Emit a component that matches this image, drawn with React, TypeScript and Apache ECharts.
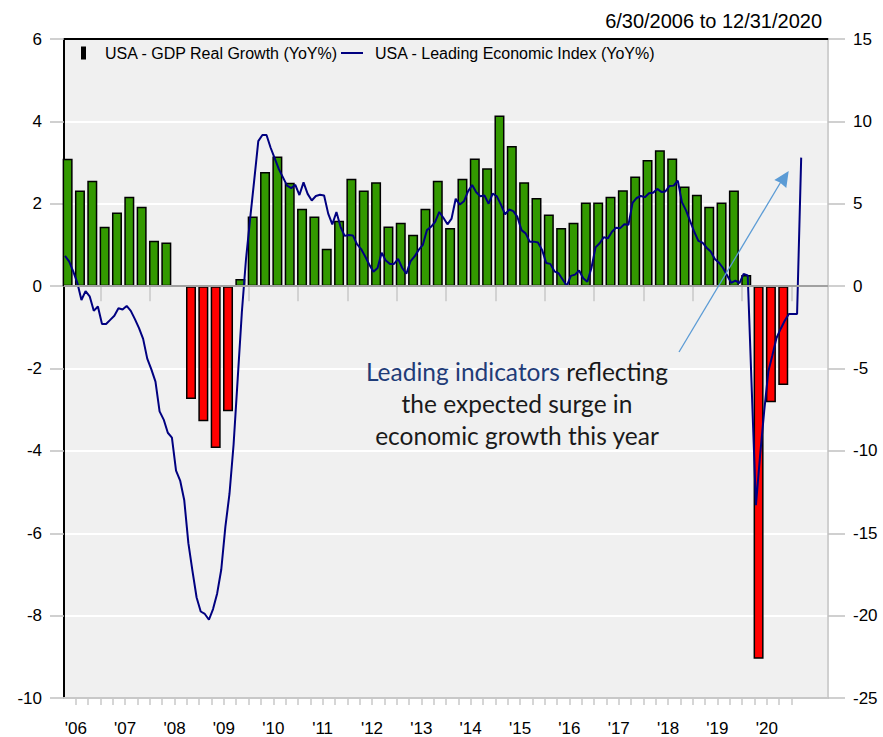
import React, { useEffect, useRef } from 'react';
import * as echarts from 'echarts';

// Quarterly USA real GDP growth (YoY %), 2006Q2 .. 2020Q4
const GDP_START_YEAR = 2006;
const GDP_START_QUARTER = 2;
const GDP_YOY = [
  3.09, 2.32, 2.56,
  1.44, 1.79, 2.17, 1.93,
  1.10, 1.06, 0.02, -2.74,
  -3.28, -3.93, -3.04, 0.17,
  1.69, 2.77, 3.15, 2.51,
  1.88, 1.69, 0.91, 1.59,
  2.61, 2.32, 2.52, 1.45,
  1.54, 1.25, 1.88, 2.56,
  1.41, 2.61, 3.10, 2.86,
  4.14, 3.40, 2.52, 2.14,
  1.74, 1.41, 1.54, 2.03,
  2.03, 2.17, 2.33, 2.66,
  3.06, 3.30, 3.10, 2.42,
  2.22, 1.93, 2.03, 2.32,
  0.27, -9.05, -2.82, -2.40,
];

// Monthly USA Leading Economic Index (YoY %), Apr 2006 .. Mar 2021
const LEI_START_YEAR = 2006;
const LEI_START_MONTH = 4;
const LEI_YOY = [
  1.83, 1.5, 0.9, 0.2, -0.84, -0.3, -0.62, -1.5, -1.24,
  -2.3, -2.3, -2.05, -1.8, -1.34, -1.42, -1.2, -1.5, -2.0, -2.55, -3.2, -4.4,
  -5.05, -5.8, -7.6, -8.1, -8.9, -9.2, -11.2, -11.8, -13.0, -15.6, -17.3, -18.9,
  -19.75, -19.9, -20.25, -19.6, -18.65, -17.2, -14.6, -12.6, -9.6, -5.6, -1.6, 1.6,
  4.05, 6.4, 8.8, 9.17, 9.17, 8.4, 7.75, 7.1, 6.6, 6.1, 5.95, 6.15,
  5.53, 6.3, 5.6, 5.2, 5.47, 5.55, 5.5, 4.4, 3.75, 4.5, 3.6, 3.05,
  3.1, 3.08, 2.55, 2.25, 1.8, 1.3, 0.88, 1.1, 2.03, 1.55, 1.35, 1.35,
  1.65, 1.1, 0.75, 1.5, 1.8, 2.2, 2.5, 3.4, 3.6, 3.9, 4.5, 4.15,
  3.75, 4.1, 5.3, 4.95, 5.15, 5.75, 6.14, 5.7, 5.45, 5.5, 5.0, 5.62,
  5.45, 4.95, 4.35, 4.65, 4.55, 4.2, 3.4, 3.2, 2.7, 2.7, 2.65, 2.2,
  1.4, 1.35, 0.9, 0.78, 0.4, 0.02, 0.62, 0.7, 0.95, 0.48, 0.27, 1.1,
  2.35, 2.6, 2.97, 2.9, 3.3, 3.55, 3.52, 3.75, 3.72, 5.05, 5.35, 5.47,
  5.4, 5.64, 5.67, 5.9, 5.72, 5.75, 6.08, 6.1, 6.4, 5.1, 4.6, 3.95,
  3.3, 2.75, 2.64, 2.33, 2.1, 1.65, 1.42, 1.1, 0.65, 0.2, 0.33, 0.18,
  0.74, 0.65, -6.4, -13.3, -10.3, -7.6, -5.2, -4.2, -3.15, -2.6, -2.1, -1.69,
  -1.69, -1.69, 7.8,
];

const X_LABEL_YEARS = [2006, 2007, 2008, 2009, 2010, 2011, 2012, 2013, 2014, 2015, 2016, 2017, 2018, 2019, 2020];
const MAJOR_TICK_YEARS = [2007, 2008, 2009, 2010, 2011, 2012, 2013, 2014, 2015, 2016, 2017, 2018, 2019, 2020, 2021];
const LEFT_TICKS = { min: -10, max: 6, interval: 2 };
const RIGHT_TICKS = { min: -25, max: 15, interval: 5 };

const TITLE = '6/30/2006 to 12/31/2020';
const GDP_NAME = 'USA - GDP Real Growth (YoY%)';
const LEI_NAME = 'USA - Leading Economic Index (YoY%)';

const X_MIN = 2006.26;
const X_MAX = 2021.74;

const FONT = 'Liberation Sans, Arial, sans-serif';

export default function App() {
  const ref = useRef<HTMLDivElement>(null);

  useEffect(() => {
    document.body.style.margin = '0';
    if (!ref.current) return;
    const chart = echarts.init(ref.current, undefined, { renderer: 'svg' });

    const gdpData = GDP_YOY.map((v, i) => [
      GDP_START_YEAR + (GDP_START_QUARTER - 1) / 4 + i / 4 + 1 / 12,
      v,
    ]);
    const leiData = LEI_YOY.map((v, i) => [
      LEI_START_YEAR + (LEI_START_MONTH - 1) / 12 + i / 12 + 0.03,
      v,
    ]);
    const quarterTicks: number[] = [];
    for (let t = 2006.25; t <= 2021.001; t += 0.25) quarterTicks.push(+t.toFixed(2));
    const labelValues = X_LABEL_YEARS.map((y) => y + 0.5);

    const axisTextStyle = { fontFamily: FONT, fontSize: 17, color: '#000' };

    const option: any = {
      animation: false,
      backgroundColor: '#ffffff',
      title: {
        text: TITLE,
        right: 61,
        top: 11,
        padding: 0,
        textStyle: { fontFamily: FONT, fontSize: 20, fontWeight: 'normal', color: '#000' },
      },
      legend: [
        {
          data: [{ name: GDP_NAME, icon: 'rect', itemStyle: { color: '#000', borderWidth: 0 } }],
          left: 81,
          top: 45,
          padding: 0,
          itemWidth: 5,
          itemHeight: 13,
          selectedMode: false,
          textStyle: { fontFamily: FONT, fontSize: 16, color: '#000', padding: [0, 0, 0, 14] },
        },
        {
          data: [{ name: LEI_NAME, icon: 'rect', itemStyle: { color: '#000080', borderWidth: 0 } }],
          left: 341,
          top: 45,
          padding: 0,
          itemWidth: 22,
          itemHeight: 2,
          selectedMode: false,
          textStyle: { fontFamily: FONT, fontSize: 16, color: '#000', padding: [0, 0, 0, 7] },
        },
      ],
      grid: {
        left: 64,
        right: 55,
        top: 39,
        bottom: 39,
        show: true,
        backgroundColor: '#f0f0f0',
        borderWidth: 0,
      },
      xAxis: [
        {
          type: 'value',
          min: X_MIN,
          max: X_MAX,
          position: 'bottom',
          axisLine: { show: true, onZero: false, lineStyle: { color: '#c8c8c8', width: 2 } },
          axisTick: {
            show: true,
            customValues: quarterTicks,
            length: 7,
            lineStyle: { color: '#c8c8c8', width: 1.5 },
          },
          axisLabel: {
            show: true,
            customValues: labelValues,
            margin: 22,
            ...axisTextStyle,
            formatter: (v: number) => "'" + String(Math.floor(v)).slice(2),
          },
          splitLine: { show: false },
        },
        {
          type: 'value',
          min: X_MIN,
          max: X_MAX,
          position: 'bottom',
          offset: 0,
          axisLine: { show: false },
          axisTick: {
            show: true,
            customValues: MAJOR_TICK_YEARS,
            length: 15,
            lineStyle: { color: '#c8c8c8', width: 1.5 },
          },
          axisLabel: { show: false },
          splitLine: { show: false },
        },
        {
          type: 'value',
          min: X_MIN,
          max: X_MAX,
          position: 'top',
          axisLine: { show: true, onZero: false, lineStyle: { color: '#000', width: 2 } },
          axisTick: { show: false },
          axisLabel: { show: false },
          splitLine: { show: false },
        },
      ],
      yAxis: [
        {
          type: 'value',
          position: 'left',
          min: LEFT_TICKS.min,
          max: LEFT_TICKS.max,
          interval: LEFT_TICKS.interval,
          axisLine: { show: true, onZero: false, lineStyle: { color: '#000', width: 2 } },
          axisTick: { show: true, length: 14, lineStyle: { color: '#c0c0c0', width: 1.5 } },
          axisLabel: { margin: 22, ...axisTextStyle },
          splitLine: { show: true, lineStyle: { color: '#ffffff', width: 2 } },
        },
        {
          type: 'value',
          position: 'right',
          min: RIGHT_TICKS.min,
          max: RIGHT_TICKS.max,
          interval: RIGHT_TICKS.interval,
          axisLine: { show: true, onZero: false, lineStyle: { color: '#d0d0d0', width: 2 } },
          axisTick: { show: true, length: 17, lineStyle: { color: '#c0c0c0', width: 1.5 } },
          axisLabel: { margin: 25, ...axisTextStyle },
          splitLine: { show: false },
        },
      ],
      series: [
        {
          name: GDP_NAME,
          type: 'bar',
          xAxisIndex: 0,
          yAxisIndex: 0,
          data: gdpData,
          barWidth: 10,
          itemStyle: {
            color: (p: any) => (p.value[1] >= 0 ? '#339900' : '#ff0000'),
            borderColor: '#000',
            borderWidth: 1.5,
          },
          markLine: {
            silent: true,
            symbol: ['none', 'none'],
            label: { show: false },
            lineStyle: { color: '#a0a0a0', width: 2, type: 'solid' },
            data: [{ yAxis: 0 }],
          },
          z: 2,
        },
        {
          name: LEI_NAME,
          type: 'line',
          xAxisIndex: 0,
          yAxisIndex: 1,
          data: leiData,
          showSymbol: false,
          symbol: 'none',
          color: '#000080',
          lineStyle: { color: '#000080', width: 2 },
          z: 4,
        },
      ],
      graphic: [
        {
          type: 'line',
          shape: { x1: 679, y1: 352, x2: 782, y2: 180 },
          style: { stroke: '#5b9bd5', lineWidth: 1.3 },
          z: 10,
        },
        {
          type: 'polygon',
          shape: { points: [[788.7, 171], [774.3, 180], [780, 182.5], [786.3, 188]] },
          style: { fill: '#5b9bd5' },
          z: 10,
        },
        {
          type: 'text',
          z: 10,
          style: {
            x: 517,
            y: 403,
            align: 'center',
            verticalAlign: 'middle',
            text: '{a|Leading indicators}{b| reflecting}\n{b|the expected surge in}\n{b|economic growth this year}',
            rich: {
              a: { fill: '#1f3c78', color: '#1f3c78', fontFamily: 'Lato', fontSize: 24.5, lineHeight: 32 },
              b: { fill: '#1a1a1a', color: '#1a1a1a', fontFamily: 'Lato', fontSize: 24.5, lineHeight: 32 },
            },
          },
        },
      ],
    };

    chart.setOption(option);
    return () => chart.dispose();
  }, []);

  return <div ref={ref} style={{ width: 883, height: 737 }} />;
}
